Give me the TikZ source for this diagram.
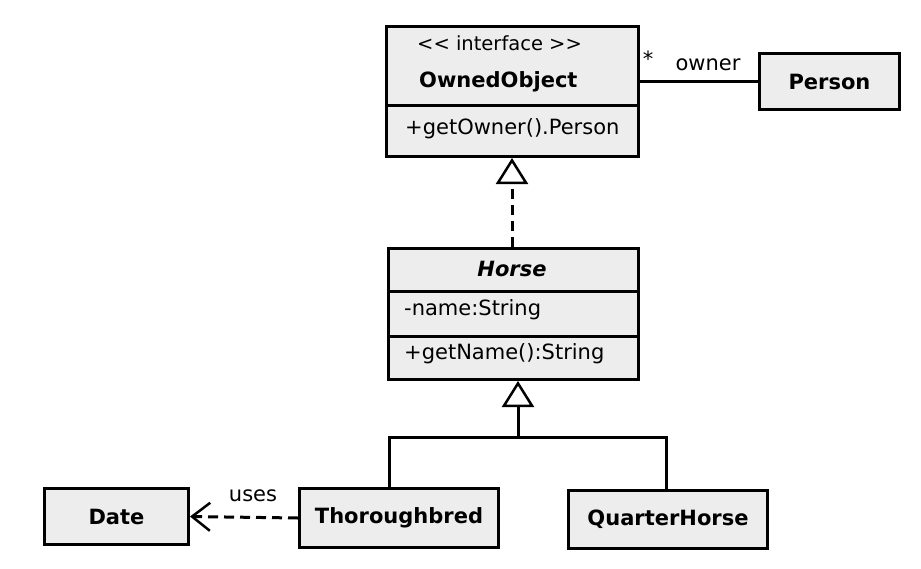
\documentclass[tikz,border=0pt]{standalone}
\usepackage{fontspec}
\setmainfont{DejaVu Sans}
\usetikzlibrary{arrows.meta}
\definecolor{boxgray}{HTML}{EDEDED}
\begin{document}
\begin{tikzpicture}[x=1pt,y=-1pt,
  box/.style={draw, line width=3pt, fill=boxgray, inner sep=0pt, anchor=north west},
  txt/.style={inner sep=0pt, font=\fontsize{21}{25}\selectfont},
  btxt/.style={txt, font=\fontsize{21}{25}\selectfont\bfseries},
  conn/.style={line width=3pt},
  dashline/.style={line width=3pt, dash pattern=on 10pt off 6pt},
  gen/.style={-{Triangle[fill=white,length=26pt,width=32pt,line width=2.5pt]}},
  barb/.style={-{Straight Barb[length=18pt,width=28pt,line width=2.5pt]}}]
\useasboundingbox (0,0) rectangle (921,568);

% OwnedObject
\node[box, minimum width=252pt, minimum height=130pt] (owned) at (385,25) {};
\node[txt, anchor=west, font=\fontsize{19.5}{24}\selectfont] (stereo) at (417,43) {{<}{<} interface {>}{>}};
\node[btxt, anchor=west] (ownedname) at (419,82) {OwnedObject};
\draw[conn] (owned.west |- 0,105) -- (owned.east |- 0,105);
\node[txt, anchor=west] (getowner) at (405,129) {+getOwner().Person};

% Person
\node[box, minimum width=140pt, minimum height=56pt] (person) at (758,52) {};
\node[btxt] (personname) at (person.center) {Person};

% Horse
\node[box, minimum width=250pt, minimum height=131pt] (horse) at (387,247) {};
\node[txt, font=\fontsize{21}{25}\selectfont\bfseries\itshape] (horsename) at (512,269) {Horse};
\draw[conn] (horse.west |- 0,291) -- (horse.east |- 0,291);
\node[txt, anchor=west] (nameattr) at (404,310) {-name:String};
\draw[conn] (horse.west |- 0,336) -- (horse.east |- 0,336);
\node[txt, anchor=west] (getname) at (404,354) {+getName():String};

% Bottom row
\node[box, minimum width=144pt, minimum height=56pt] (date) at (43,487) {};
\node[btxt] (datename) at (date.center) {Date};
\node[box, minimum width=199pt, minimum height=59pt] (thoro) at (298,487) {};
\node[btxt] (thoroname) at (thoro.center) {Thoroughbred};
\node[box, minimum width=199pt, minimum height=58pt] (qh) at (567,489) {};
\node[btxt] (qhname) at (qh.center) {QuarterHorse};

% association
\draw[conn] (person.west) -- (person.west -| owned.east);
\node[txt] (star) at (648,59) {*};
\node[txt] (owner) at (708,65) {owner};

% realization
\draw[dashline, gen] (horse.north -| 512,0) -- (owned.south -| 512,0);

% generalization
\coordinate (jn) at (518,437);
\draw[conn] ([xshift=-10pt]thoro.north) |- (jn) -| ([xshift=-2pt]qh.north);
\draw[conn, gen] (jn) -- (jn |- horse.south);

% dependency
\draw[dashline, barb] (thoro.west) -- (date.east);
\node[txt] (uses) at (253,496) {uses};
\end{tikzpicture}
\end{document}
